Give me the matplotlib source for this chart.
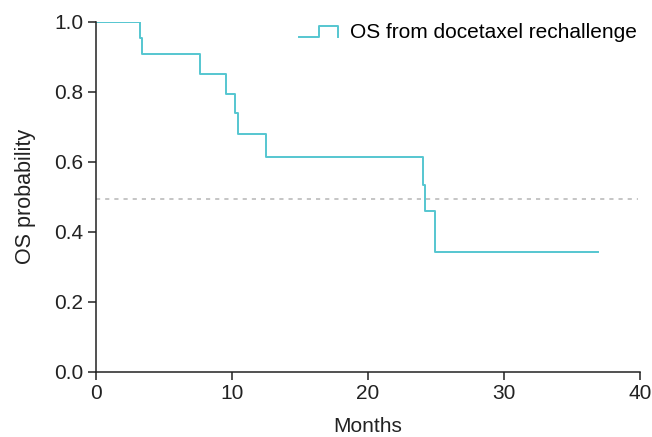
import matplotlib
matplotlib.use("Agg")
import matplotlib.pyplot as plt
from matplotlib.lines import Line2D
from matplotlib.legend_handler import HandlerBase

plt.rcParams['font.family'] = ['Liberation Sans', 'DejaVu Sans']

# Kaplan-Meier steps
months = [0, 3.24, 3.36, 7.65, 9.54, 10.22, 10.44, 12.52, 24.02, 24.21, 24.93, 36.9]
surv = [1.0, 0.953, 0.907, 0.852, 0.794, 0.740, 0.680, 0.614, 0.535, 0.459, 0.343, 0.343]
median_line = 0.495

teal = '#55c6d0'
ink = '#222222'


class StepHandler(HandlerBase):
    def create_artists(self, legend, orig_handle, xdescent, ydescent,
                       width, height, fontsize, trans):
        lo = height * 0.05
        hi = height * 0.85
        xs = [0, width * 0.5, width * 0.5, width, width]
        ys = [lo, lo, hi, hi, lo + height * 0.05]
        ln = Line2D(xs, ys, color=teal, lw=1.4, transform=trans)
        return [ln]


fig = plt.figure(figsize=(6.52, 4.37), dpi=100)
ax = fig.add_axes([0.147, 0.149, 0.835, 0.801])

ax.axhline(median_line, color='#bbbbbb', lw=1.2, linestyle=(0, (2.5, 3)), xmax=0.995)
line, = ax.step(months, surv, where='post', color=teal, lw=1.4,
                label='OS from docetaxel rechallenge')

ax.set_xlim(0, 40)
ax.set_ylim(0, 1.0)
ax.set_xticks([0, 10, 20, 30, 40])
ax.set_yticks([0.0, 0.2, 0.4, 0.6, 0.8, 1.0])
ax.set_yticklabels(['0.0', '0.2', '0.4', '0.6', '0.8', '1.0'])

for s in ['top', 'right']:
    ax.spines[s].set_visible(False)
for s in ['left', 'bottom']:
    ax.spines[s].set_color(ink)
    ax.spines[s].set_linewidth(1.1)
ax.tick_params(direction='out', length=6, width=1.1, color=ink,
               labelsize=15, labelcolor=ink, pad=3)

ax.set_xlabel('Months', fontsize=15, color=ink, labelpad=10)
ax.set_ylabel('OS probability', fontsize=15.5, color=ink, labelpad=13)

ax.legend(handles=[line], handler_map={line: StepHandler()}, loc='upper right',
          frameon=False, fontsize=15, handlelength=1.9, handletextpad=0.55,
          borderaxespad=0.0, bbox_to_anchor=(1.009, 1.02))

fig.savefig('out.png', dpi=100)
